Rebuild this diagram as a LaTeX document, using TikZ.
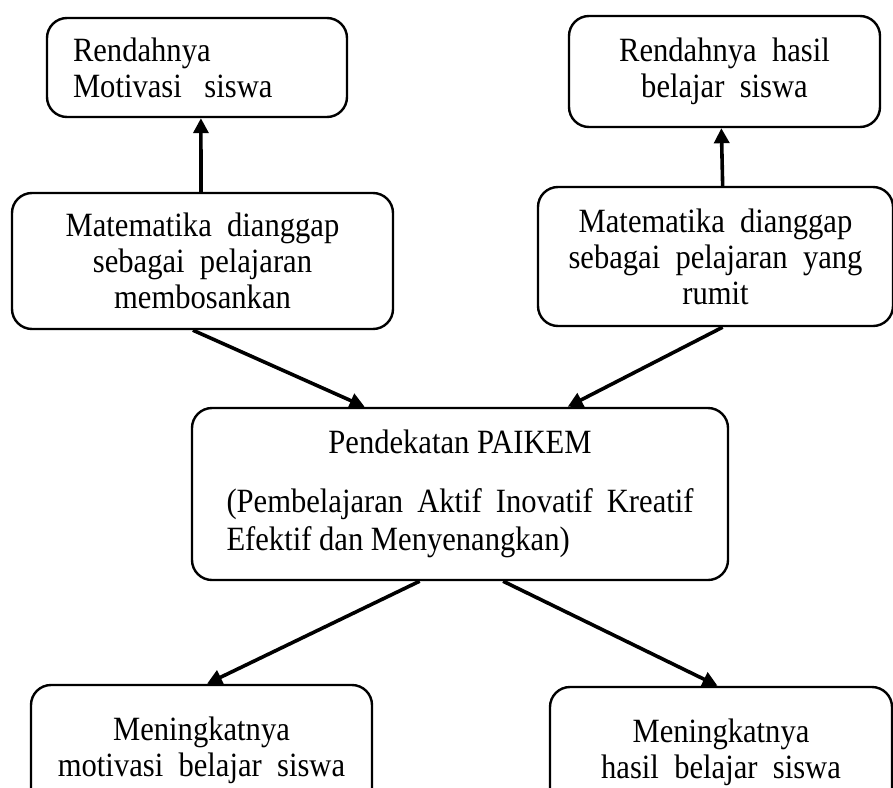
\documentclass[tikz,border=0pt]{standalone}
\usepackage{fontspec}
\setmainfont{Liberation Serif}[FakeStretch=0.9]
\usepackage{tikz}
\usetikzlibrary{positioning,calc,arrows.meta}

\begin{document}
\begin{tikzpicture}[x=1pt,y=-1pt]
  \tikzstyle{box}=[draw=black,line width=2.4pt,rounded corners=20pt,align=center,inner sep=0pt,font=\fontsize{34}{36}\selectfont]
  \tikzstyle{panah}=[line width=3.6pt,-{Triangle[length=15pt,width=15pt]}]
  \useasboundingbox (0,0) rectangle (893,787);
  \clip (0,0) rectangle (893,787);

  \draw (197,67.5) node[box,minimum width=300,minimum height=99,text width=248,align=left] (motivasi){Rendahnya\\Motivasi\ \ siswa};
  \draw (724.5,71.5) node[box,minimum width=311,minimum height=111] (hasil){Rendahnya\ \ hasil\\belajar\ \ siswa};

  \draw (202.5,261) node[box,minimum width=381,minimum height=136] (bosan){Matematika\ \ dianggap\\sebagai\ \ pelajaran\\membosankan};
  \draw (715.5,256.5) node[box,minimum width=355,minimum height=139] (rumit){Matematika\ \ dianggap\\sebagai\ \ pelajaran\ \ yang\\rumit};

  \draw (460,494) node[box,minimum width=536,minimum height=172] (paikem){Pendekatan PAIKEM\\[34pt]\parbox{467pt}{\fontsize{34}{38}\selectfont(Pembelajaran Aktif Inovatif Kreatif\linebreak Efektif dan Menyenangkan)}};

  \draw (201.5,750) node[box,minimum width=341,minimum height=130] (naikmot){Meningkatnya\\motivasi\ \ belajar\ \ siswa};
  \draw (721,752) node[box,minimum width=342,minimum height=130] (naikhas){Meningkatnya\\hasil\ \ belajar\ \ siswa};

  \draw[panah] ($(bosan.north west)!0.496!(bosan.north east)$) -- ($(motivasi.south west)!0.513!(motivasi.south east)$);
  \draw[panah] ($(rumit.north west)!0.52!(rumit.north east)$) -- ($(hasil.south west)!0.49!(hasil.south east)$);

  \draw[panah] ($(bosan.south west)!0.475!(bosan.south east)$) -- ($(paikem.north west)!0.323!(paikem.north east)$);
  \draw[panah] ($(rumit.south west)!0.52!(rumit.south east)$) -- ($(paikem.north west)!0.70!(paikem.north east)$);

  \draw[panah] ($(paikem.south west)!0.425!(paikem.south east)$) -- ($(naikmot.north west)!0.516!(naikmot.north east)$);
  \draw[panah] ($(paikem.south west)!0.58!(paikem.south east)$) -- ($(naikhas.north west)!0.49!(naikhas.north east)$);
\end{tikzpicture}
\end{document}
